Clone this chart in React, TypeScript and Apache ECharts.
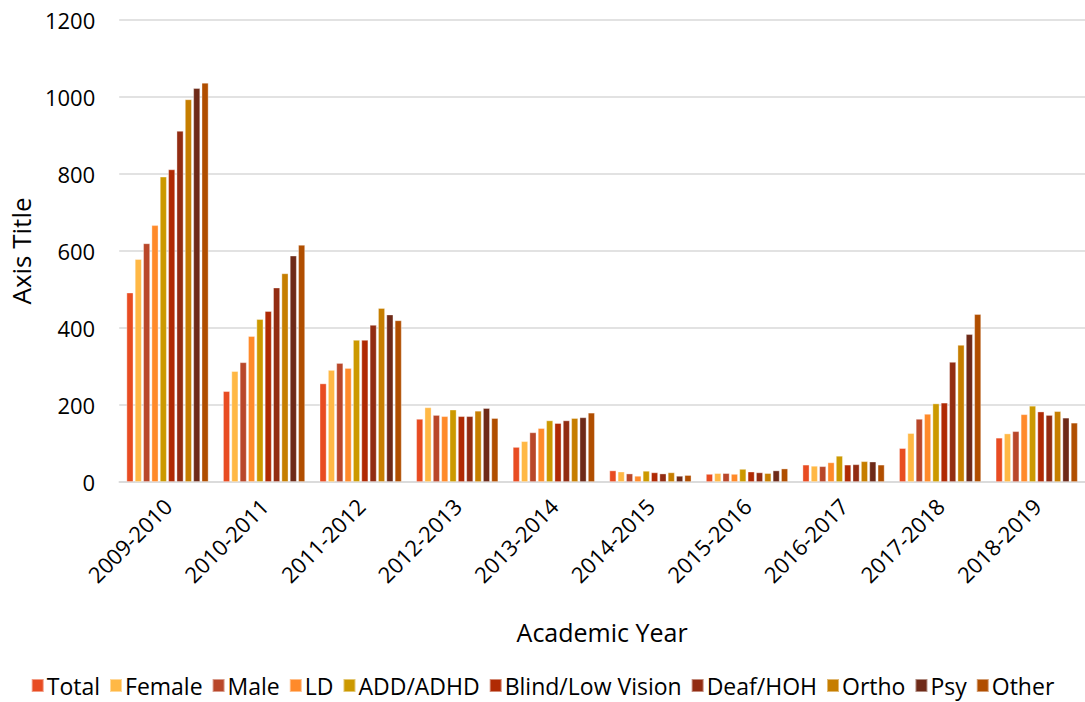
import React, { useEffect, useRef } from "react";
import * as echarts from "echarts";

const categories = [
  "2009-2010", "2010-2011", "2011-2012", "2012-2013", "2013-2014",
  "2014-2015", "2015-2016", "2016-2017", "2017-2018", "2018-2019",
];

const seriesNames = [
  "Total", "Female", "Male", "LD", "ADD/ADHD",
  "Blind/Low Vision", "Deaf/HOH", "Ortho", "Psy", "Other",
];

const seriesColors = [
  "#E84C22", "#FFB845", "#B9472A", "#FF8A2A", "#CC9900",
  "#B02A04", "#922C12", "#C67E00", "#6E2A18", "#B04E00",
];

const total = [492, 236, 256, 164, 91, 30, 21, 45, 88, 115];
const female = [579, 288, 291, 194, 106, 27, 23, 42, 127, 126];
const male = [620, 311, 309, 174, 129, 22, 23, 41, 164, 132];
const ld = [667, 379, 296, 171, 140, 16, 21, 51, 177, 176];
const addAdhd = [793, 423, 369, 188, 160, 29, 34, 68, 204, 198];
const blindLowVision = [812, 444, 369, 171, 153, 25, 27, 45, 206, 183];
const deafHoh = [912, 505, 408, 171, 160, 22, 25, 46, 312, 174];
const ortho = [994, 542, 452, 185, 166, 25, 23, 54, 356, 184];
const psy = [1023, 588, 435, 192, 168, 16, 30, 53, 384, 167];
const other = [1037, 616, 420, 166, 180, 18, 35, 45, 436, 154];

const seriesValues = [total, female, male, ld, addAdhd, blindLowVision, deafHoh, ortho, psy, other];

const yTicks = { min: 0, max: 1200, interval: 200 };

const FONT = "'Open Sans', 'Noto Sans', sans-serif";

export default function App() {
  const ref = useRef<HTMLDivElement>(null);

  useEffect(() => {
    document.body.style.margin = "0";
    if (!ref.current) return;
    const chart = echarts.init(ref.current, undefined, { renderer: "svg" });
    chart.setOption({
      animation: false,
      textStyle: { fontFamily: FONT },
      grid: { left: 115, top: 20, width: 980, height: 462, containLabel: false },
      legend: {
        data: seriesNames,
        bottom: 0,
        left: "center",
        itemWidth: 12,
        itemHeight: 13,
        itemGap: 9,
        icon: "rect",
        textStyle: { fontSize: 23, color: "#000", fontFamily: FONT, padding: [0, 0, 0, -2] },
      },
      xAxis: {
        type: "category",
        data: categories,
        name: "Academic Year",
        nameLocation: "middle",
        nameGap: 137,
        nameTextStyle: { fontSize: 25, color: "#000", fontFamily: FONT },
        axisLine: { show: true, lineStyle: { color: "#d9d9d9", width: 1.5 } },
        axisTick: { show: false },
        axisLabel: {
          rotate: 45,
          fontSize: 22,
          color: "#000",
          margin: 20,
          interval: 0,
          fontFamily: FONT,
        },
      },
      yAxis: {
        type: "value",
        min: yTicks.min,
        max: yTicks.max,
        interval: yTicks.interval,
        name: "Axis Title",
        nameLocation: "middle",
        nameGap: 84,
        nameTextStyle: { fontSize: 26, color: "#000", fontFamily: FONT },
        axisLine: { show: false },
        axisTick: { show: false },
        axisLabel: {
          fontSize: 22,
          color: "#000",
          margin: 24,
          fontFamily: FONT,
          formatter: (v: number) => String(v),
        },
        splitLine: { lineStyle: { color: "#d9d9d9", width: 1.5 } },
      },
      series: seriesNames.map((name, i) => ({
        name,
        type: "bar",
        data: seriesValues[i],
        barGap: "20%",
        barCategoryGap: "15%",
        itemStyle: {
          color: seriesColors[i],
          borderColor: "rgba(255,255,255,0.45)",
          borderWidth: 0.8,
        },
      })),
    });
    return () => chart.dispose();
  }, []);

  return <div ref={ref} style={{ width: 1085, height: 702 }} />;
}
